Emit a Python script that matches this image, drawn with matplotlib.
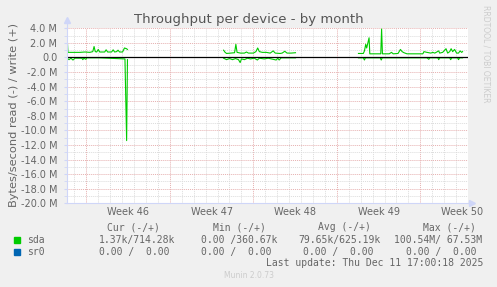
import matplotlib
matplotlib.use('Agg')
import matplotlib.pyplot as plt
import numpy as np

# x values are days since the start of the graph (end = Thu Dec 11 17:00:18 2025)
SPAN_DAYS = 400 * 7200 / 86400.0
FIRST_MONDAY = 1.625          # Mon Nov 10 00:00
WEEKS = ['Week 46', 'Week 47', 'Week 48', 'Week 49', 'Week 50']

# sda write (+), bytes/s, in three runs separated by gaps
write_t1 = [0.0, 0.08, 0.67, 1.08, 1.50, 1.91, 2.16, 2.27, 2.37, 2.49, 2.62, 2.74,
            3.16, 3.28, 3.41, 3.74, 3.87, 3.99, 4.16, 4.28, 4.41, 4.66, 4.82, 4.99, 5.07]
write_v1 = [3.2, 0.7, 0.7, 0.7, 0.75, 0.7, 0.8, 1.5, 0.8, 0.75, 1.1, 0.75,
            0.75, 1.05, 0.75, 0.75, 1.05, 0.75, 0.8, 1.0, 0.75, 0.75, 1.3, 1.2, 1.1]
write_t2 = [13.13, 13.26, 13.38, 13.72, 14.05, 14.16, 14.26, 14.55, 14.88, 15.05, 15.21,
            15.63, 15.84, 15.99, 16.13, 16.38, 16.71, 17.04, 17.29, 17.46, 17.87, 18.04,
            18.26, 18.45, 18.79, 19.16]
write_v2 = [1.0, 0.7, 0.55, 0.6, 0.65, 1.8, 0.7, 0.6, 0.6, 0.75, 0.6,
            0.6, 0.8, 1.3, 0.8, 0.7, 0.7, 0.6, 0.9, 0.6, 0.55, 0.6,
            0.85, 0.6, 0.6, 0.65]
write_t3 = [24.44, 24.85, 24.94, 25.05, 25.13, 25.23, 25.33, 25.39, 25.85, 26.31, 26.38,
            26.45, 27.02, 27.21, 27.35, 27.76, 27.96, 28.10, 28.26, 28.51, 29.34, 29.84,
            29.93, 30.18, 30.51, 30.67, 30.84, 31.17, 31.25, 31.50, 31.78, 31.92, 32.09,
            32.21, 32.34, 32.50, 32.67, 32.83, 32.96, 33.09, 33.17]
write_v3 = [0.55, 0.55, 0.9, 1.8, 1.3, 2.0, 2.7, 0.5, 0.5, 0.5, 3.9,
            0.5, 0.5, 0.7, 0.5, 0.55, 1.1, 0.8, 0.65, 0.5, 0.5, 0.5,
            0.8, 0.7, 0.6, 0.7, 0.6, 0.9, 0.6, 0.7, 1.2, 0.6, 0.8,
            1.2, 0.8, 1.1, 0.6, 0.6, 0.9, 0.7, 0.8]

# sda read (-), drawn below zero
read_t1 = [0.0, 0.17, 0.33, 0.50, 0.67, 1.25, 1.33, 1.41, 1.58, 1.66, 2.74, 4.86, 5.0, 5.07]
read_v1 = [-0.1, -0.3, -0.1, -0.35, -0.1, -0.1, -0.3, -0.1, -0.25, -0.05, -0.05, -0.2, -11.4, -0.3]
read_t2 = [13.13, 13.38, 13.63, 13.88, 14.13, 14.38, 14.52, 14.63, 14.88, 15.13, 15.38,
           15.71, 15.96, 16.13, 16.54, 16.87, 17.54, 17.67, 17.79, 17.96, 19.16]
read_v2 = [-0.1, -0.3, -0.15, -0.3, -0.15, -0.3, -0.7, -0.2, -0.3, -0.1, -0.2,
           -0.1, -0.35, -0.1, -0.2, -0.1, -0.35, -0.1, -0.35, -0.05, -0.05]
read_t3 = [24.44, 24.85, 24.94, 25.02, 26.27, 26.35, 26.43, 30.18, 30.34, 30.42, 31.09,
           31.17, 31.25, 32.09, 32.17, 32.26, 32.75, 32.83, 32.92, 33.17]
read_v3 = [-0.05, -0.05, -0.35, -0.05, -0.05, -0.35, -0.05, -0.05, -0.25, -0.05, -0.05,
           -0.3, -0.05, -0.05, -0.3, -0.05, -0.05, -0.3, -0.05, -0.05]

legend_rows = [
    ('sda', '#00CC00', ['1.37k/714.28k', '0.00 /360.67k', '79.65k/625.19k', '100.54M/ 67.53M']),
    ('sr0', '#0066B3', ['0.00 /  0.00', '0.00 /  0.00', '0.00 /  0.00', '0.00 /  0.00']),
]
col_heads = ['Cur (-/+)', 'Min (-/+)', 'Avg (-/+)', 'Max (-/+)']

W, H = 497, 287
FONT = '#666666'
AXIS = '#CFD6F8'

fig = plt.figure(figsize=(W / 100, H / 100), dpi=100, facecolor='#F0F0F0')
ax = fig.add_axes([67 / W, 1 - 203.3 / H, 401 / W, 175 / H])
ax.set_facecolor('white')
ax.set_xlim(0, SPAN_DAYS)
ax.set_ylim(-20e6, 4e6)

# grid: daily minor, weekly major; 1M minor, 2M major
mondays = FIRST_MONDAY + 7 * np.arange(5)
ax.set_xticks(mondays)
ax.set_xticks(FIRST_MONDAY - 1 + np.arange(34), minor=True)
ax.set_xticklabels([])
yt = np.arange(-20, 5, 2) * 1e6
ax.set_yticks(yt)
ax.set_yticklabels(['0.0' if v == 0 else '%.1f M' % (v / 1e6) for v in yt])
ax.set_yticks(np.arange(-20, 5, 1) * 1e6, minor=True)
ax.grid(which='minor', color='#DCDCDC', linestyle=(0, (1, 1)), linewidth=0.7)
ax.grid(which='major', color='#E6B0B0', linestyle=(0, (1, 1)), linewidth=0.7)
ax.set_axisbelow(True)
ax.tick_params(which='both', length=2, color=AXIS, labelsize=7, labelcolor=FONT, pad=5)
ax.tick_params(axis='x', which='both', length=0)

for s in ('top', 'right'):
    ax.spines[s].set_visible(False)
for s in ('left', 'bottom'):
    ax.spines[s].set_color(AXIS)
    ax.spines[s].set_linewidth(0.8)
ax.plot([0, 0], [1, 1.045], color=AXIS, lw=0.8, transform=ax.transAxes, clip_on=False)
ax.plot([0], [1.045], marker='^', ms=4, color=AXIS, transform=ax.transAxes, clip_on=False)
ax.plot([1, 1.01], [0, 0], color=AXIS, lw=0.8, transform=ax.transAxes, clip_on=False)
ax.plot([1.01], [0], marker='>', ms=4, color=AXIS, transform=ax.transAxes, clip_on=False)

for t, v in ((write_t1, write_v1), (write_t2, write_v2), (write_t3, write_v3),
             (read_t1, read_v1), (read_t2, read_v2), (read_t3, read_v3)):
    ax.plot(t, np.array(v) * 1e6, color='#00CC00', lw=0.8)
ax.axhline(0, color='black', lw=0.9)

for i, w in enumerate(WEEKS):
    ax.text(mondays[i] + 3.5, -0.05, w, transform=ax.get_xaxis_transform(),
            ha='center', va='center', fontsize=7, color=FONT)

fig.text(248.5 / W, 1 - 19 / H, 'Throughput per device - by month', ha='center',
         va='center', fontsize=9.5, color='#555555')
fig.text(14 / W, 1 - 115 / H, 'Bytes/second read (-) / write (+)', rotation=90,
         ha='center', va='center', fontsize=8.2, color=FONT)
fig.text(486 / W, 1 - 5 / H, 'RRDTOOL / TOBI OETIKER', rotation=270, ha='center',
         va='top', fontsize=5.5, color='#CCCCCC')

mono = 'DejaVu Sans Mono'
for x, h in zip([107.3, 213, 318.3, 422.7], col_heads):
    fig.text(x / W, 1 - 227 / H, h, family=mono, fontsize=7, color=FONT, va='center')
val_x = [[99.3, 201, 298.3, 394.3], [99.3, 201, 303.3, 406]]
for r, (name, col, vals) in enumerate(legend_rows):
    y = 240 + r * 11.7
    fig.patches.append(plt.Rectangle((14 / W, 1 - (y + 3) / H), 6 / W, 6 / H,
                                     transform=fig.transFigure, color=col))
    fig.text(26.7 / W, 1 - y / H, name, family=mono, fontsize=7, color=FONT, va='center')
    for x, v in zip(val_x[r], vals):
        fig.text(x / W, 1 - y / H, v, family=mono, fontsize=7, color=FONT, va='center')
fig.text(483 / W, 1 - 263.3 / H, 'Last update: Thu Dec 11 17:00:18 2025', family=mono,
         fontsize=7, color=FONT, ha='right', va='center')
fig.text(248.5 / W, 1 - 276 / H, 'Munin 2.0.73', fontsize=5.5, color='#CCCCCC',
         ha='center', va='center')

fig.savefig('out.png', dpi=100, facecolor=fig.get_facecolor())
